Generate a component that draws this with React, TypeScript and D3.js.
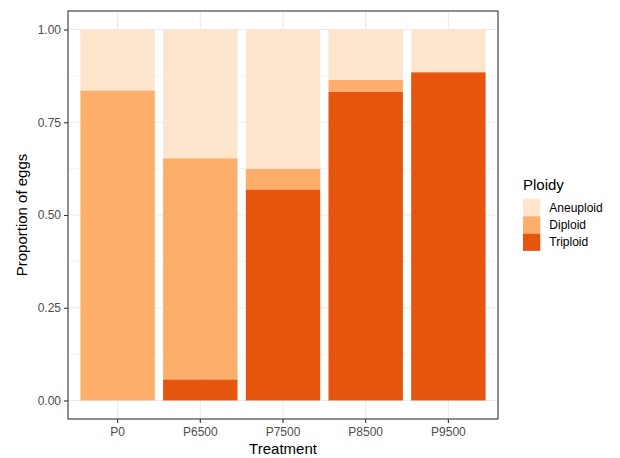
import React from "react";
import * as d3 from "d3";

const treatments = ["P0", "P6500", "P7500", "P8500", "P9500"];
const ploidyLevels = ["Aneuploid", "Diploid", "Triploid"];
// proportions per treatment
const triploid = [0.0, 0.057, 0.569, 0.832, 0.885];
const diploid = [0.836, 0.596, 0.056, 0.033, 0.0];
const aneuploid = [0.164, 0.347, 0.375, 0.135, 0.115];
const yTicks = [0, 0.25, 0.5, 0.75, 1];
const yMinor = [0.125, 0.375, 0.625, 0.875];
const colours = ["#FEE6CE", "#FDAE6B", "#E6550D"];

const W = 620;
const H = 458;
const margin = { top: 11, right: 122, bottom: 39, left: 68 };

export default function App() {
  const svgRef = React.useRef<SVGSVGElement>(null);

  React.useEffect(() => {
    const svg = d3.select(svgRef.current);
    svg.selectAll("*").remove();

    const pw = W - margin.left - margin.right;
    const ph = H - margin.top - margin.bottom;
    const font = "'Liberation Sans', Arial, sans-serif";

    // ggplot-style discrete expansion: 0.6 step on each side, bar width 0.9
    const x = d3
      .scaleBand()
      .domain(treatments)
      .range([margin.left, margin.left + pw])
      .paddingInner(0.1)
      .paddingOuter(0.15);

    const y = d3
      .scaleLinear()
      .domain([-0.05, 1.05])
      .range([margin.top + ph, margin.top]);

    const rows = treatments.map((t, i) => ({
      treatment: t,
      Triploid: triploid[i],
      Diploid: diploid[i],
      Aneuploid: aneuploid[i],
    }));
    // stack bottom-up: triploid, diploid, aneuploid
    const stack = d3.stack<any>().keys(["Triploid", "Diploid", "Aneuploid"]);
    const series = stack(rows);
    const colour = d3.scaleOrdinal<string>().domain(ploidyLevels).range(colours);

    const panel = svg.append("g");
    panel
      .append("rect")
      .attr("x", margin.left)
      .attr("y", margin.top)
      .attr("width", pw)
      .attr("height", ph)
      .attr("fill", "white");

    // grid
    panel
      .selectAll(".minor")
      .data(yMinor)
      .join("line")
      .attr("x1", margin.left)
      .attr("x2", margin.left + pw)
      .attr("y1", (d) => y(d))
      .attr("y2", (d) => y(d))
      .attr("stroke", "#EBEBEB")
      .attr("stroke-width", 0.6);
    panel
      .selectAll(".major")
      .data(yTicks)
      .join("line")
      .attr("x1", margin.left)
      .attr("x2", margin.left + pw)
      .attr("y1", (d) => y(d))
      .attr("y2", (d) => y(d))
      .attr("stroke", "#EBEBEB")
      .attr("stroke-width", 1.1);
    panel
      .selectAll(".vmajor")
      .data(treatments)
      .join("line")
      .attr("x1", (d) => x(d)! + x.bandwidth() / 2)
      .attr("x2", (d) => x(d)! + x.bandwidth() / 2)
      .attr("y1", margin.top)
      .attr("y2", margin.top + ph)
      .attr("stroke", "#EBEBEB")
      .attr("stroke-width", 1.1);

    // bars
    svg
      .append("g")
      .selectAll("g")
      .data(series)
      .join("g")
      .attr("fill", (s) => colour(s.key))
      .selectAll("rect")
      .data((s) => s)
      .join("rect")
      .attr("x", (d) => x(d.data.treatment)!)
      .attr("width", x.bandwidth())
      .attr("y", (d) => y(d[1]))
      .attr("height", (d) => Math.max(0, y(d[0]) - y(d[1])));

    // border
    svg
      .append("rect")
      .attr("x", margin.left)
      .attr("y", margin.top)
      .attr("width", pw)
      .attr("height", ph)
      .attr("fill", "none")
      .attr("stroke", "#333333")
      .attr("stroke-width", 1.1);

    // axes
    const yAxis = svg
      .append("g")
      .attr("transform", `translate(${margin.left},0)`)
      .call(
        d3
          .axisLeft(y)
          .tickValues(yTicks)
          .tickFormat(d3.format(".2f"))
          .tickSize(4)
          .tickPadding(3)
      );
    yAxis.select(".domain").remove();
    yAxis.selectAll("line").attr("stroke", "#333333").attr("stroke-width", 1.1);
    yAxis
      .selectAll("text")
      .attr("fill", "#4D4D4D")
      .style("font-family", font)
      .style("font-size", "12px");

    const xAxis = svg
      .append("g")
      .attr("transform", `translate(0,${margin.top + ph})`)
      .call(d3.axisBottom(x).tickSize(4).tickPadding(4));
    xAxis.select(".domain").remove();
    xAxis.selectAll("line").attr("stroke", "#333333").attr("stroke-width", 1.1);
    xAxis
      .selectAll("text")
      .attr("fill", "#4D4D4D")
      .style("font-family", font)
      .style("font-size", "12px");

    svg
      .append("text")
      .attr("x", margin.left + pw / 2)
      .attr("y", H - 4)
      .attr("text-anchor", "middle")
      .style("font-family", font)
      .style("font-size", "15px")
      .text("Treatment");

    svg
      .append("text")
      .attr("transform", `translate(${27},${margin.top + ph / 2}) rotate(-90)`)
      .attr("text-anchor", "middle")
      .style("font-family", font)
      .style("font-size", "15px")
      .text("Proportion of eggs");

    // legend
    const lg = svg.append("g").attr("transform", `translate(523,0)`);
    lg.append("text")
      .attr("x", 0)
      .attr("y", 190)
      .style("font-family", font)
      .style("font-size", "15px")
      .text("Ploidy");
    const key = 17.3;
    ploidyLevels.forEach((p, i) => {
      lg.append("rect")
        .attr("x", 0)
        .attr("y", 199 + i * key)
        .attr("width", key)
        .attr("height", key)
        .attr("fill", colour(p));
      lg.append("text")
        .attr("x", key + 9)
        .attr("y", 199 + i * key + key / 2)
        .attr("dy", "0.35em")
        .style("font-family", font)
        .style("font-size", "12px")
        .text(p);
    });
  }, []);

  return (
    <svg
      ref={svgRef}
      width={W}
      height={H}
      style={{ position: "absolute", left: 0, top: 0, background: "white" }}
    />
  );
}
